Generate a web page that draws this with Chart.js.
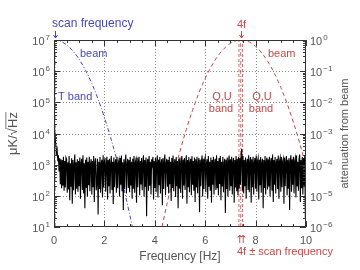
<!DOCTYPE html>
<html>
<head>
<meta charset="utf-8">
<script src="https://cdn.jsdelivr.net/npm/chart.js@4/dist/chart.umd.min.js"></script>
<style>
  html, body { margin: 0; padding: 0; background: #fff; }
  canvas { display: block; }
</style>
</head>
<body>
<canvas id="chart" width="360" height="270"></canvas>
<script>
// noise spectrum (uK/sqrt(Hz)), one value every 0.025 Hz from 0 to 10 Hz
const freqStep = 0.025;
const noise = [
  40000, 14000, 6500, 4200, 2400, 3000, 1300, 2000, 600, 1600, 235, 1500, 175, 1400, 210, 1800, 145, 1300, 185, 1700,
  1500, 125, 1200, 160, 1900, 72, 1100, 195, 1600, 56, 1400, 150, 1000, 2100, 110, 1200, 170, 1500, 135, 1300,
  205, 1700, 80, 1150, 1550, 155, 2000, 120, 1100, 40, 1450, 180, 1700, 95, 1250, 220, 1800, 140, 1050, 1500,
  110, 1300, 190, 1900, 64, 1200, 1600, 150, 245, 1550, 25, 1250, 165, 1750, 125, 1100, 1450, 88, 2000, 185,
  1200, 1650, 135, 1000, 1800, 76, 1400, 205, 1550, 120, 1100, 1900, 155, 1250, 55, 1700, 190, 1150, 1500, 125,
  1800, 175, 1100, 1400, 95, 1650, 225, 1950, 140, 1200, 35, 1500, 165, 1250, 2100, 120, 1050, 1550, 180, 1400,
  130, 1750, 215, 1250, 80, 1550, 170, 1900, 125, 1150, 1450, 60, 1700, 190, 1250, 1800, 105, 1300, 230, 1650,
  150, 1100, 2000, 95, 1400, 195, 1700, 22, 1200, 1550, 145, 1900, 210, 1250, 110, 1500, 1050, 1750, 76, 1300,
  180, 1650, 130, 1200, 1950, 88, 1450, 220, 1750, 120, 1150, 1500, 50, 1650, 165, 1250, 2100, 105, 1100, 1550,
  195, 1400, 120, 1800, 235, 1250, 68, 1650, 180, 1950, 140, 1150, 1500, 92, 1750, 205, 1300, 40, 1550, 170,
  1700, 125, 1200, 1900, 80, 1450, 215, 1650, 155, 1100, 2000, 56, 1400, 190, 1750, 130, 1200, 1550, 105, 1900,
  225, 1300, 145, 1700, 64, 1500, 185, 1800, 120, 1150, 1650, 30, 1450, 205, 1250, 1950, 95, 1550, 165, 1400,
  1750, 130, 1100, 1500, 80, 1900, 195, 1250, 145, 1700, 60, 1400, 225, 1800, 110, 1200, 1550, 155, 2000, 175,
  1300, 105, 1650, 240, 1900, 72, 1250, 200, 1750, 130, 1100, 1550, 28, 1450, 165, 1700, 95, 1250, 1950, 145,
  1500, 205, 1800, 110, 1250, 1650, 60, 1400, 185, 1900, 140, 1550, 105, 1750, 170, 1650, 225, 2000, 3200, 145,
  1900, 120, 1400, 205, 1700, 80, 1200, 1550, 155, 2000, 130, 1250, 1750, 60, 1500, 190, 1800, 110, 1150, 1650,
  170, 1950, 135, 1300, 1650, 76, 1450, 220, 1750, 125, 1200, 1550, 40, 1400, 180, 1900, 110, 1250, 1700, 160,
  1500, 200, 1800, 95, 1250, 1650, 145, 2100, 64, 1400, 225, 1750, 120, 1150, 1550, 165, 1950, 80, 1300, 1650,
  135, 1750, 190, 1250, 1550, 56, 1700, 205, 1200, 1900, 105, 1450, 170, 1650, 35, 1250, 2000, 135, 1500, 225,
  1800, 120, 1300, 1650, 88, 1950, 200, 1250, 145, 1550, 2100, 64, 1400, 175, 1750, 110, 1650, 210, 1900, 18,
  1400
];

// beam attenuation around the scan frequency (T band)
const beamTFreq = [0, 0.25, 0.5, 0.75, 1.0, 1.25, 1.5, 1.75, 2.0, 2.25, 2.5, 2.75, 3.0, 3.25];
const beamTAtten = [1, 0.915, 0.70, 0.448, 0.24, 0.107, 0.0403, 0.0126, 0.0033, 7.3e-4, 1.33e-4, 2.05e-5, 2.6e-6, 3e-7];

// beam attenuation around 4f (Q,U band)
const beamQUFreq = [4.0, 4.25, 4.5, 4.75, 5.0, 5.25, 5.5, 5.75, 6.0, 6.25, 6.5, 6.75, 7.0, 7.25, 7.42,
  7.5, 7.75, 8.0, 8.25, 8.5, 8.75, 9.0, 9.25, 9.5, 9.75, 10.0];
const beamQUAtten = [8e-8, 7.4e-7, 6.3e-6, 4.5e-5, 2.7e-4, 1.35e-3, 5.6e-3, 0.020, 0.059, 0.146, 0.305, 0.532, 0.78, 0.96, 1,
  0.99, 0.86, 0.62, 0.38, 0.195, 0.083, 0.030, 0.0091, 0.0023, 4.9e-4, 8.7e-5];

// marker frequencies
const scanFreq = 0.04;
const fourFLines = [7.34, 7.41, 7.48];

// axis ticks
const xTicks = [0, 2, 4, 6, 8, 10];
const leftExp = [1, 2, 3, 4, 5, 6, 7];
const rightExp = [-6, -5, -4, -3, -2, -1, 0];

const BLUE = 'rgb(72, 72, 190)';
const RED = 'rgb(196, 72, 72)';
const GREY = '#555';
const FONT = '"Liberation Sans", Arial, sans-serif';

const noisePoints = noise.map((v, i) => ({ x: i * freqStep, y: v }));
const toPoints = (xs, ys) => xs.map((f, i) => ({ x: f, y: ys[i] }));
const vLine = f => [{ x: f, y: 10 }, { x: f, y: 1e7 }];

function drawPower(ctx, exp, xPos, yPos, align) {
  const base = '10';
  const sup = String(exp).replace('-', '\u2212');
  ctx.font = '11px ' + FONT;
  const wb = ctx.measureText(base).width;
  ctx.font = '8px ' + FONT;
  const ws = ctx.measureText(sup).width;
  const x0 = align === 'right' ? xPos - wb - ws - 1 : xPos;
  ctx.textAlign = 'left';
  ctx.textBaseline = 'middle';
  ctx.font = '11px ' + FONT;
  ctx.fillText(base, x0, yPos + 2);
  ctx.font = '8px ' + FONT;
  ctx.fillText(sup, x0 + wb + 1, yPos - 2);
}

function arrowDown(ctx, x, y0, y1) {
  ctx.beginPath();
  ctx.moveTo(x, y0); ctx.lineTo(x, y1);
  ctx.moveTo(x - 2, y1 - 3); ctx.lineTo(x, y1); ctx.lineTo(x + 2, y1 - 3);
  ctx.stroke();
}

const decor = {
  id: 'decor',
  beforeDatasetsDraw(chart) {
    const { ctx, chartArea: a, scales: { x, y } } = chart;
    ctx.save();
    ctx.strokeStyle = '#8a8a8a';
    ctx.lineWidth = 1;
    ctx.setLineDash([1, 2]);
    xTicks.slice(1, -1).forEach(v => {
      const px = Math.round(x.getPixelForValue(v)) + 0.5;
      ctx.beginPath(); ctx.moveTo(px, a.top); ctx.lineTo(px, a.bottom); ctx.stroke();
    });
    leftExp.slice(1, -1).forEach(e => {
      const py = Math.round(y.getPixelForValue(Math.pow(10, e))) + 0.5;
      ctx.beginPath(); ctx.moveTo(a.left, py); ctx.lineTo(a.right, py); ctx.stroke();
    });
    ctx.restore();
  },
  afterDraw(chart) {
    const { ctx, chartArea: a, scales: { x, y, y2 } } = chart;
    ctx.save();
    // frame
    ctx.strokeStyle = '#333';
    ctx.lineWidth = 1;
    ctx.strokeRect(a.left + 0.5, a.top + 0.5, a.right - a.left - 1, a.bottom - a.top - 1);

    // inward ticks, top and bottom
    ctx.beginPath();
    for (let f = 0; f <= 10.001; f += 0.5) {
      const px = Math.round(x.getPixelForValue(f)) + 0.5;
      const len = (Math.abs(f / 2 - Math.round(f / 2)) < 1e-6) ? 6 : 3;
      ctx.moveTo(px, a.bottom); ctx.lineTo(px, a.bottom - len);
      ctx.moveTo(px, a.top); ctx.lineTo(px, a.top + len);
    }
    // inward ticks, left and right
    [[y, leftExp, a.left, 1], [y2, rightExp, a.right, -1]].forEach(([sc, exps, edge, dir]) => {
      exps.forEach((e, k) => {
        for (let m = 1; m <= 9; m++) {
          if (k === exps.length - 1 && m > 1) break;
          const py = Math.round(sc.getPixelForValue(m * Math.pow(10, e))) + 0.5;
          const len = m === 1 ? 6 : 3;
          ctx.moveTo(edge, py); ctx.lineTo(edge + dir * len, py);
        }
      });
    });
    ctx.stroke();

    // tick labels
    ctx.fillStyle = GREY;
    ctx.font = '11px ' + FONT;
    ctx.textAlign = 'center';
    ctx.textBaseline = 'middle';
    xTicks.forEach(v => ctx.fillText(String(v), x.getPixelForValue(v), 241));
    leftExp.forEach(e => drawPower(ctx, e, a.left - 4, y.getPixelForValue(Math.pow(10, e)), 'right'));
    rightExp.forEach(e => drawPower(ctx, e, a.right + 4, y2.getPixelForValue(Math.pow(10, e)), 'left'));

    // axis titles
    ctx.textAlign = 'center';
    ctx.textBaseline = 'middle';
    ctx.font = '12px ' + FONT;
    ctx.fillText('Frequency [Hz]', (a.left + a.right) / 2, 257);

    ctx.save();
    ctx.translate(13, (a.top + a.bottom) / 2);
    ctx.rotate(-Math.PI / 2);
    ctx.font = '13px ' + FONT;
    ctx.fillText('\u03bcK/\u221aHz', 0, 0);
    const wAll = ctx.measureText('\u03bcK/\u221aHz').width;
    const wHz = ctx.measureText('Hz').width;
    ctx.fillRect(wAll / 2 - wHz - 1, -7.5, wHz + 1, 0.8);
    ctx.restore();

    ctx.save();
    ctx.translate(345, (a.top + a.bottom) / 2);
    ctx.rotate(-Math.PI / 2);
    ctx.font = '11px ' + FONT;
    ctx.fillText('attenuation from beam', 0, 0);
    ctx.restore();

    // annotations
    const sx = Math.round(x.getPixelForValue(scanFreq)) + 0.5;
    const qx = Math.round(x.getPixelForValue(fourFLines[1])) + 0.5;
    ctx.font = '12px ' + FONT;
    ctx.fillStyle = BLUE;
    ctx.strokeStyle = BLUE;
    ctx.textAlign = 'left';
    ctx.fillText('scan frequency', 52, 24);
    arrowDown(ctx, sx, 31, 38);
    ctx.font = '11px ' + FONT;
    ctx.fillText('beam', 80, 54);
    ctx.fillText('T band', 58, 97);

    ctx.fillStyle = RED;
    ctx.strokeStyle = RED;
    ctx.font = '11px ' + FONT;
    ctx.textAlign = 'center';
    ctx.fillText('4f', qx, 25);
    arrowDown(ctx, qx, 31, 38);
    ctx.textAlign = 'left';
    ctx.fillText('beam', 268, 54);
    ctx.textAlign = 'center';
    ctx.fillText('Q,U', 222, 97);
    ctx.fillText('band', 221, 109);
    ctx.fillText('Q,U', 262, 97);
    ctx.fillText('band', 261, 109);
    ctx.font = '11px "DejaVu Sans", sans-serif';
    ctx.fillText('\u21c8', qx, 240);
    ctx.font = '11px ' + FONT;
    ctx.textAlign = 'left';
    ctx.fillText('4f \u00b1 scan frequency', 237, 252);
    ctx.restore();
  }
};

const lineDefaults = { pointRadius: 0, borderWidth: 1, fill: false, tension: 0 };

new Chart(document.getElementById('chart'), {
  type: 'line',
  data: {
    datasets: [
      // a tiny tension keeps every zig-zag segment (no fast-path column merging)
      { ...lineDefaults, label: 'noise', data: noisePoints, borderColor: '#000', borderWidth: 1.1, tension: 0.00001, yAxisID: 'y' },
      { ...lineDefaults, label: 'scan', data: vLine(scanFreq), borderColor: BLUE, borderDash: [4, 2, 1, 2], yAxisID: 'y' },
      { ...lineDefaults, label: '4f-', data: vLine(fourFLines[0]), borderColor: RED, borderWidth: 0.8, borderDash: [3, 2], yAxisID: 'y' },
      { ...lineDefaults, label: '4f', data: vLine(fourFLines[1]), borderColor: RED, borderWidth: 0.8, borderDash: [4, 2, 1, 2], yAxisID: 'y' },
      { ...lineDefaults, label: '4f+', data: vLine(fourFLines[2]), borderColor: RED, borderWidth: 0.8, borderDash: [3, 2], yAxisID: 'y' },
      { ...lineDefaults, label: 'beam T', data: toPoints(beamTFreq, beamTAtten), borderColor: BLUE, borderDash: [4, 2, 1, 2], yAxisID: 'y2', cubicInterpolationMode: 'monotone' },
      { ...lineDefaults, label: 'beam QU', data: toPoints(beamQUFreq, beamQUAtten), borderColor: RED, borderDash: [4, 3], yAxisID: 'y2', cubicInterpolationMode: 'monotone' }
    ]
  },
  options: {
    responsive: false,
    animation: false,
    devicePixelRatio: 1,
    layout: { padding: { top: 40, left: 0, right: 0, bottom: 0 } },
    plugins: { legend: { display: false }, tooltip: { enabled: false } },
    scales: {
      x: {
        type: 'linear', min: 0, max: 10,
        grid: { display: false }, border: { display: false },
        ticks: { display: false },
        afterFit: s => { s.height = 43; }
      },
      y: {
        type: 'logarithmic', position: 'left', min: 10, max: 1e7,
        grid: { display: false }, border: { display: false },
        ticks: { display: false },
        afterFit: s => { s.width = 54; }
      },
      y2: {
        type: 'logarithmic', position: 'right', min: 1e-6, max: 1,
        grid: { display: false }, border: { display: false },
        ticks: { display: false },
        afterFit: s => { s.width = 54; }
      }
    }
  },
  plugins: [decor]
});
</script>
</body>
</html>
